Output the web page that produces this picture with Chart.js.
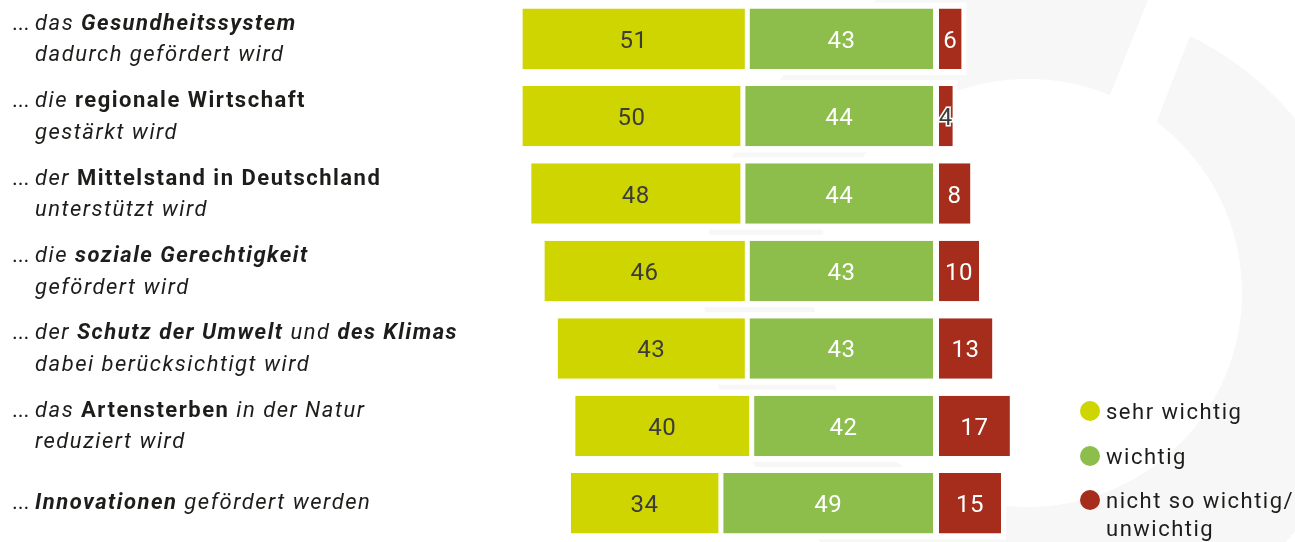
<!DOCTYPE html>
<html>
<head>
<meta charset="utf-8">
<script src="https://cdn.jsdelivr.net/npm/chart.js@4.4.1/dist/chart.umd.min.js"></script>
<style>
  html, body { margin: 0; padding: 0; background: #fff; }
  #wrap { width: 1295px; height: 542px; position: relative; }
</style>
</head>
<body>
<div id="wrap"><canvas id="myChart"></canvas></div>
<script>
// Werte in Prozent
const categories = [
  "... das Gesundheitssystem dadurch gefördert wird",
  "... die regionale Wirtschaft gestärkt wird",
  "... der Mittelstand in Deutschland unterstützt wird",
  "... die soziale Gerechtigkeit gefördert wird",
  "... der Schutz der Umwelt und des Klimas dabei berücksichtigt wird",
  "... das Artensterben in der Natur reduziert wird",
  "... Innovationen gefördert werden",
];
const sehrWichtig = [51, 50, 48, 46, 43, 40, 34];
const wichtig = [43, 44, 44, 43, 43, 42, 49];
const unwichtig = [6, 4, 8, 10, 13, 17, 15];
const seriesNames = ["sehr wichtig", "wichtig", ["nicht so wichtig/", "unwichtig"]];
const seriesColors = ["#cfd500", "#8dbe4b", "#a62d1b"];

// label pieces: [text, style]  n = normal, i = italic, b = bold, bi = bold italic
const labelLines = [
  [[["das ", "i"], ["Gesundheitssystem", "bi"]], [["dadurch gefördert wird", "i"]]],
  [[["die ", "i"], ["regionale Wirtschaft", "b"]], [["gestärkt wird", "i"]]],
  [[["der ", "i"], ["Mittelstand in Deutschland", "b"]], [["unterstützt wird", "i"]]],
  [[["die ", "i"], ["soziale Gerechtigkeit", "bi"]], [["gefördert wird", "i"]]],
  [[["der ", "i"], ["Schutz der Umwelt", "bi"], [" und ", "i"], ["des Klimas", "bi"]], [["dabei berücksichtigt wird", "i"]]],
  [[["das ", "i"], ["Artensterben", "b"], [" in der Natur", "i"]], [["reduziert wird", "i"]]],
  [[["Innovationen", "bi"], [" gefördert werden", "i"]]],
];

// invisible spacer so that "sehr wichtig" + "wichtig" end at the same point
const spacer = sehrWichtig.map((v, i) => 100 - v - wichtig[i]);

const FONT = "Roboto";

function fontFor(style, size) {
  let f = "";
  if (style.includes("i")) f += "italic ";
  if (style.includes("b")) f += "bold ";
  return f + size + "px " + FONT;
}

const watermark = {
  id: "watermark",
  beforeDraw(chart) {
    const ctx = chart.ctx;
    ctx.save();
    ctx.fillStyle = "#fff";
    ctx.fillRect(0, 0, chart.width, chart.height);
    ctx.fillStyle = "#f7f7f7";
    // left part of the ring
    ctx.save();
    ctx.beginPath();
    ctx.moveTo(-10, -10);
    ctx.lineTo(1152, -10);
    ctx.lineTo(1068, 200);
    ctx.lineTo(1068, 560);
    ctx.lineTo(-10, 560);
    ctx.closePath();
    ctx.clip();
    ctx.beginPath();
    ctx.arc(1034, 290, 330, 0, Math.PI * 2);
    ctx.fill();
    ctx.restore();
    // right part of the ring
    ctx.save();
    ctx.beginPath();
    ctx.moveTo(1208, -10);
    ctx.lineTo(1400, -10);
    ctx.lineTo(1400, 560);
    ctx.lineTo(1068, 560);
    ctx.lineTo(1068, 200);
    ctx.lineTo(1126, 200);
    ctx.closePath();
    ctx.clip();
    ctx.beginPath();
    ctx.arc(1048, 325, 322, 0, Math.PI * 2);
    ctx.fill();
    ctx.restore();
    // hole
    ctx.fillStyle = "#fff";
    ctx.beginPath();
    ctx.arc(1028, 293, 214, 0, Math.PI * 2);
    ctx.fill();
    ctx.restore();
  },
  beforeDatasetsDraw(chart) {
    // white boxes behind every row
    const ctx = chart.ctx;
    const first = chart.getDatasetMeta(1).data;
    const last = chart.getDatasetMeta(3).data;
    ctx.save();
    ctx.fillStyle = "#fff";
    for (let i = 0; i < first.length; i++) {
      const a = first[i].getProps(["base", "y", "height"], true);
      const b = last[i].getProps(["x"], true);
      ctx.fillRect(a.base - 5, a.y - a.height / 2 - 6, b.x - a.base + 9, a.height + 12);
    }
    ctx.restore();
  },
};

const valueLabels = {
  id: "valueLabels",
  afterDatasetsDraw(chart) {
    const ctx = chart.ctx;
    ctx.save();
    ctx.font = "24px " + FONT;
    ctx.letterSpacing = "0.5px";
    ctx.textAlign = "center";
    ctx.textBaseline = "middle";
    for (let d = 1; d <= 3; d++) {
      const meta = chart.getDatasetMeta(d);
      const bw = chart.data.datasets[d].borderWidth;
      meta.data.forEach((bar, i) => {
        const p = bar.getProps(["x", "y", "base"], true);
        const left = p.base + (bw.left || 0);
        const right = p.x - (bw.right || 0);
        const cx = (left + right) / 2;
        const txt = String(chart.data.datasets[d].data[i]);
        const tw = ctx.measureText(txt).width;
        if (d === 1) {
          ctx.fillStyle = "#3c3c3b";
          ctx.fillText(txt, cx, p.y + 3);
        } else if (tw > right - left - 2) {
          ctx.lineWidth = 3;
          ctx.strokeStyle = "#fff";
          ctx.strokeText(txt, cx, p.y + 3);
          ctx.fillStyle = "#3c3c3b";
          ctx.fillText(txt, cx, p.y + 3);
        } else {
          ctx.fillStyle = "#fff";
          ctx.fillText(txt, cx, p.y + 3);
        }
      });
    }
    ctx.restore();
  },
};

const richLabels = {
  id: "richLabels",
  afterDraw(chart) {
    const ctx = chart.ctx;
    const yScale = chart.scales.y;
    ctx.save();
    ctx.fillStyle = "#1d1d1b";
    ctx.textBaseline = "alphabetic";
    ctx.textAlign = "left";
    labelLines.forEach((lines, i) => {
      const yc = yScale.getPixelForValue(i);
      let y = lines.length > 1 ? yc - 9 : yc + 6;
      lines.forEach((line, li) => {
        if (li === 0) {
          ctx.font = fontFor("n", 22);
          ctx.letterSpacing = "0px";
          ctx.fillText("...", 12, y);
        }
        ctx.letterSpacing = "1.5px";
        let x = 35;
        line.forEach(([t, s]) => {
          ctx.font = fontFor(s, 22);
          ctx.fillText(t, x, y);
          x += ctx.measureText(t).width;
        });
        y += 31.5;
      });
    });

    // legend
    const legendY = [411, 456, 500];
    ctx.font = "22px " + FONT;
    ctx.letterSpacing = "1.5px";
    seriesNames.forEach((name, i) => {
      ctx.fillStyle = seriesColors[i];
      ctx.beginPath();
      ctx.arc(1090, legendY[i], 10, 0, Math.PI * 2);
      ctx.fill();
      ctx.fillStyle = "#1d1d1b";
      const parts = Array.isArray(name) ? name : [name];
      parts.forEach((t, k) => {
        ctx.fillText(t, 1106, legendY[i] + 8 + k * 28);
      });
    });
    ctx.restore();
  },
};

const ctx = document.getElementById("myChart").getContext("2d");
const myChart = new Chart(ctx, {
  type: "bar",
  data: {
    labels: categories,
    datasets: [
      {
        label: "",
        data: spacer,
        backgroundColor: "rgba(0,0,0,0)",
        borderWidth: 0,
      },
      {
        label: "sehr wichtig",
        data: sehrWichtig,
        backgroundColor: seriesColors[0],
        borderColor: "rgba(0,0,0,0)",
        borderWidth: { left: 0, right: 2, top: 0, bottom: 0 },
        borderSkipped: false,
      },
      {
        label: "wichtig",
        data: wichtig,
        backgroundColor: seriesColors[1],
        borderColor: "rgba(0,0,0,0)",
        borderWidth: { left: 3, right: 3, top: 0, bottom: 0 },
        borderSkipped: false,
      },
      {
        label: "nicht so wichtig/unwichtig",
        data: unwichtig,
        backgroundColor: seriesColors[2],
        borderColor: "rgba(0,0,0,0)",
        borderWidth: { left: 3, right: 1, top: 0, bottom: 0 },
        borderSkipped: false,
      },
    ],
  },
  options: {
    indexAxis: "y",
    responsive: true,
    maintainAspectRatio: false,
    animation: false,
    categoryPercentage: 0.78,
    barPercentage: 1,
    layout: { padding: { left: 496, right: 7, top: 0, bottom: 0 } },
    scales: {
      x: { stacked: true, min: 0, max: 180, display: false },
      y: { stacked: true, display: false },
    },
    plugins: {
      legend: { display: false },
      tooltip: { enabled: false },
    },
  },
  plugins: [watermark, valueLabels, richLabels],
});
</script>
</body>
</html>
